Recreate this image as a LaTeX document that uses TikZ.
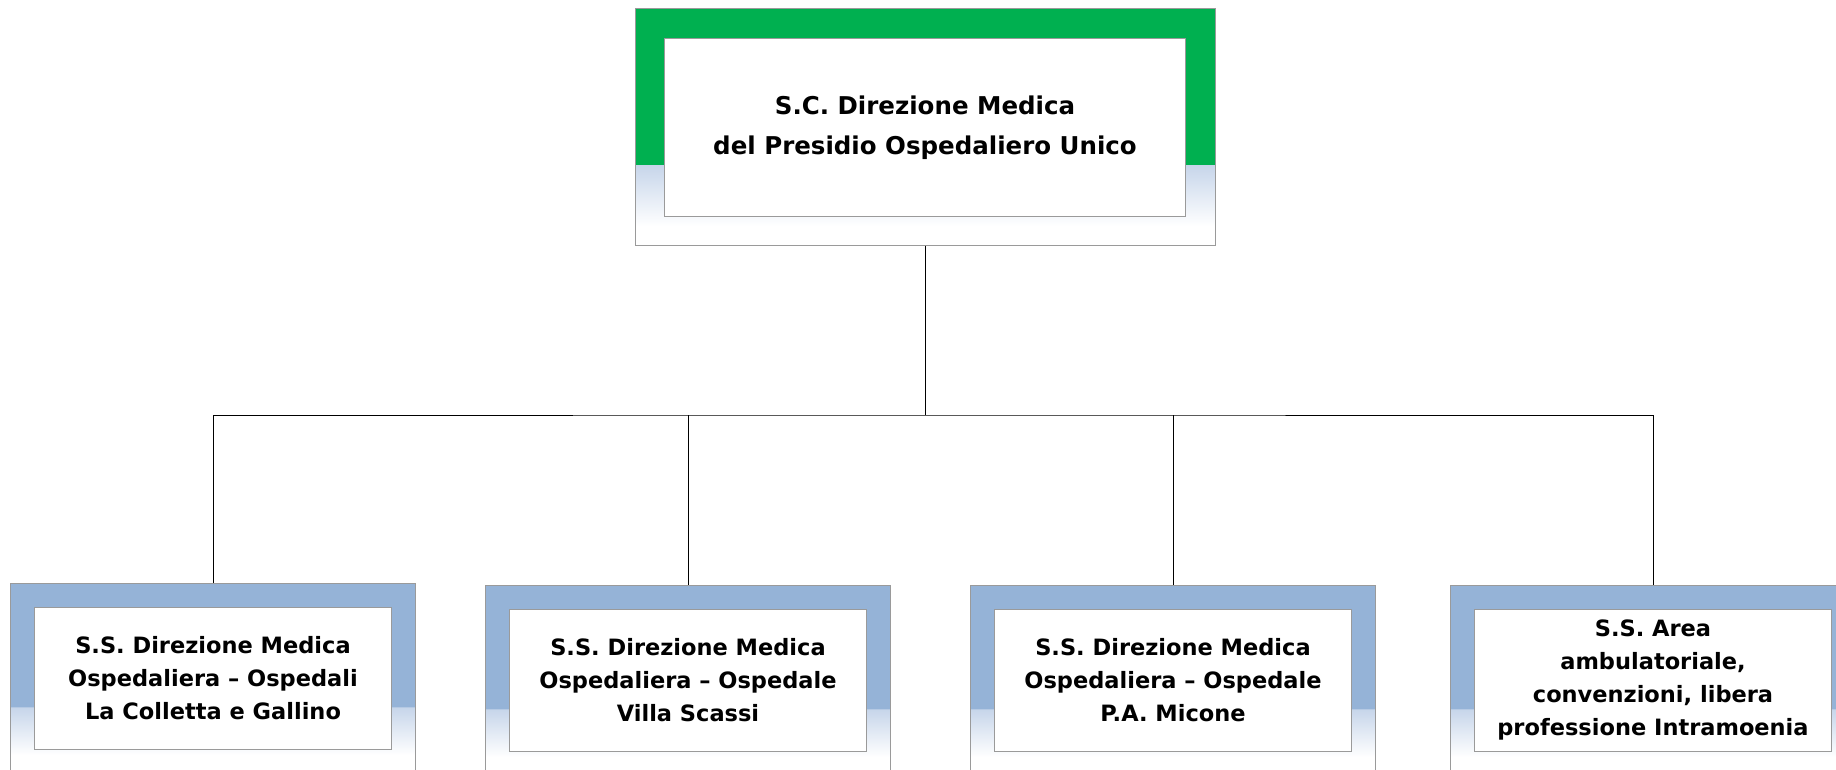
\documentclass[tikz,border=0pt]{standalone}
\usepackage{fontspec}
\setmainfont{DejaVu Sans}
\usepackage{tikz}
\usetikzlibrary{arrows, shapes, positioning}

\definecolor{verde}{HTML}{00B050}
\definecolor{blu}{HTML}{95B3D7}
\definecolor{celeste}{HTML}{C6D5EA}
\definecolor{bordo}{HTML}{9A9A9A}

\pgfdeclareverticalshading{fasciaverde}{100bp}{color(0bp)=(white); color(29bp)=(white); color(42bp)=(celeste); color(42.01bp)=(verde); color(100bp)=(verde)}
\pgfdeclareverticalshading{fasciablu}{100bp}{color(0bp)=(white); color(32bp)=(white); color(44bp)=(celeste); color(44.01bp)=(blu); color(100bp)=(blu)}

\tikzset{
	cornice/.style={draw=bordo, line width=1pt, inner sep=0pt},
	capo/.style={cornice, shading=fasciaverde, minimum width=580, minimum height=236},
	reparto/.style={cornice, shading=fasciablu, minimum width=405, minimum height=200},
	testo/.style={fill=white, draw=bordo, line width=1pt, align=center, inner sep=0pt},
	testocapo/.style={testo, minimum width=521, minimum height=178, font=\bfseries\fontsize{24.5}{40}\selectfont},
	testoss/.style={testo, minimum width=357, minimum height=142, font=\bfseries\fontsize{22.5}{33}\selectfont}
}

\begin{document}
\begin{tikzpicture}[x=1pt, y=-1pt]
	\useasboundingbox[fill=white] (0,0) rectangle (1836,770);

	% direzione
	\node[capo]		(dir)		at (925, 127)	{};
	\node[testocapo]	(dirtxt)	at (925, 128)	{S.C. Direzione Medica\\del Presidio Ospedaliero Unico};

	% strutture semplici
	\node[reparto]	(ss1)		at (213, 683)	{};
	\node[testoss]	(ss1txt)	at (213, 678)	{S.S. Direzione Medica\\Ospedaliera -- Ospedali\\La Colletta e Gallino};
	\node[reparto]	(ss2)		at (688, 685)	{};
	\node[testoss]	(ss2txt)	at (688, 680)	{S.S. Direzione Medica\\Ospedaliera -- Ospedale\\Villa Scassi};
	\node[reparto]	(ss3)		at (1173, 685)	{};
	\node[testoss]	(ss3txt)	at (1173, 680)	{S.S. Direzione Medica\\Ospedaliera -- Ospedale\\P.A. Micone};
	\node[reparto]	(ss4)		at (1653, 685)	{};
	\node[testoss]	(ss4txt)	at (1653, 680)	{S.S. Area\\ambulatoriale,\\convenzioni, libera\\professione Intramoenia};

	% collegamenti
	\coordinate (bus) at (925, 415);
	\draw[line width=1pt] (dir.south) to (bus);
	\draw[line width=1pt] (ss1.north) |- (bus) -| (ss4.north);
	\draw[line width=1pt] (ss2.north) to (ss2.north |- bus);
	\draw[line width=1pt] (ss3.north) to (ss3.north |- bus);
\end{tikzpicture}
\end{document}
